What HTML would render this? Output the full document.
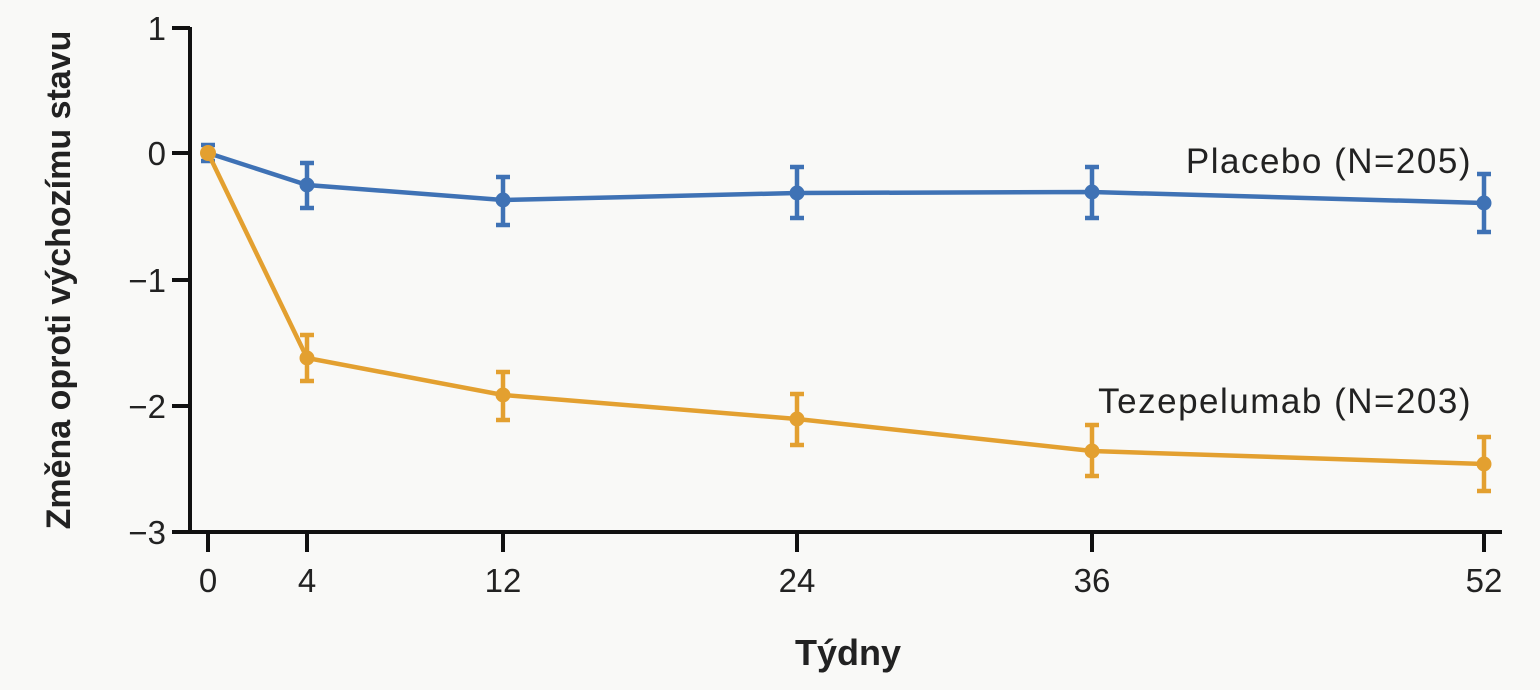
<!DOCTYPE html>
<html><head><meta charset="utf-8"><style>
html,body{margin:0;padding:0;background:#f9f9f7;}
svg{display:block;font-family:"Liberation Sans",sans-serif;}
</style></head><body>
<svg width="1540" height="690" viewBox="0 0 1540 690">
<rect width="1540" height="690" fill="#f9f9f7"/>
<g stroke="#111" stroke-width="4" fill="none">
<line x1="190" y1="27" x2="190" y2="533"/>
<line x1="172" y1="532" x2="1502" y2="532"/>
<line x1="172" y1="28" x2="190" y2="28"/>
<line x1="172" y1="153" x2="190" y2="153"/>
<line x1="172" y1="280" x2="190" y2="280"/>
<line x1="172" y1="406" x2="190" y2="406"/>
<line x1="208" y1="532" x2="208" y2="552"/>
<line x1="307" y1="532" x2="307" y2="552"/>
<line x1="503" y1="532" x2="503" y2="552"/>
<line x1="797" y1="532" x2="797" y2="552"/>
<line x1="1092" y1="532" x2="1092" y2="552"/>
<line x1="1484" y1="532" x2="1484" y2="552"/>
</g>
<g font-size="33" fill="#222" text-anchor="end">
<text x="166" y="40">1</text>
<text x="166" y="165">0</text>
<text x="166" y="292">−1</text>
<text x="166" y="418">−2</text>
<text x="166" y="544">−3</text>
</g>
<g font-size="33" fill="#222" text-anchor="middle">
<text x="208" y="592">0</text>
<text x="307" y="592">4</text>
<text x="503" y="592">12</text>
<text x="797" y="592">24</text>
<text x="1092" y="592">36</text>
<text x="1484" y="592">52</text>
<text x="848" y="665" font-weight="bold" font-size="36">Týdny</text>
<text transform="translate(70,280) rotate(-90)" font-weight="bold" font-size="34">Změna oproti výchozímu stavu</text>
</g>
<g font-size="35" fill="#222" text-anchor="end" letter-spacing="1.5">
<text x="1472" y="173">Placebo (N=205)</text>
<text x="1472" y="413">Tezepelumab (N=203)</text>
</g>
<g stroke="#3f72b5" stroke-width="4.5" fill="none">
<polyline points="208,153 307,185 503,200 797,193 1092,192 1484,203"/>
<path d="M208,145V161M201,145H215M201,161H215 M307,163V208M300,163H314M300,208H314 M503,177V225M496,177H510M496,225H510 M797,167V218M790,167H804M790,218H804 M1092,167V218M1085,167H1099M1085,218H1099 M1484,174V232M1477,174H1491M1477,232H1491"/>
</g>
<g fill="#3f72b5">
<circle cx="307" cy="185" r="7.5"/><circle cx="503" cy="200" r="7.5"/><circle cx="797" cy="193" r="7.5"/><circle cx="1092" cy="192" r="7.5"/><circle cx="1484" cy="203" r="7.5"/>
</g>
<g stroke="#e3a030" stroke-width="4.5" fill="none">
<polyline points="208,153 307,358 503,395 797,419 1092,451 1484,464"/>
<path d="M307,335V381M300,335H314M300,381H314 M503,372V420M496,372H510M496,420H510 M797,394V445M790,394H804M790,445H804 M1092,425V476M1085,425H1099M1085,476H1099 M1484,437V491M1477,437H1491M1477,491H1491"/>
</g>
<g fill="#e3a030">
<circle cx="208" cy="153" r="8"/><circle cx="307" cy="358" r="7.5"/><circle cx="503" cy="395" r="7.5"/><circle cx="797" cy="419" r="7.5"/><circle cx="1092" cy="451" r="7.5"/><circle cx="1484" cy="464" r="7.5"/>
</g>
</svg>
</body></html>
